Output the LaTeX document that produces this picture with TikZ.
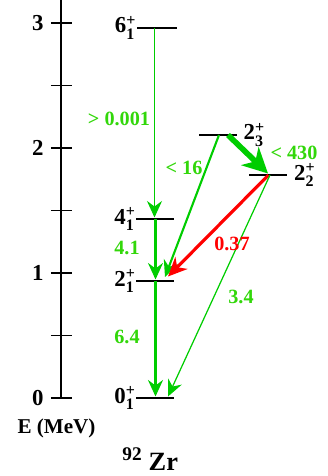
\documentclass[tikz,border=0pt]{standalone}
\usepackage{amsmath}
\usepackage{fontspec}
\setmainfont{Liberation Serif}[BoldFont={Liberation Serif Bold}]
\usetikzlibrary{arrows.meta}
\definecolor{trgreen}{RGB}{0,205,0}
\definecolor{lbgreen}{RGB}{50,215,10}
\definecolor{trred}{RGB}{255,0,0}
\newcommand{\lvl}[2]{#1$^{\text{+}}_{\text{#2}}$}

\begin{document}
\begin{tikzpicture}[x=0.2mm, y=2.5cm,
  lev/.style={fill=black, inner sep=0pt, minimum height=1.3pt, minimum width=7.6mm},
  tick/.style={line width=0.7pt},
  tr/.style={draw=trgreen, -{Stealth[length=3.3mm,width=3mm,inset=1.1mm]}},
  trlab/.style={text=lbgreen, font=\bfseries\fontsize{11.5}{13}\selectfont, inner sep=0pt},
  levlab/.style={font=\bfseries\fontsize{13}{15}\selectfont, inner sep=0pt}]
  \useasboundingbox (0,-0.624) rectangle (328,3.184);

  % energy axis
  \coordinate (atop) at (61,3.184);
  \coordinate (abot) at (61,0);
  \draw[line width=0.8pt] (atop) -- (abot);
  \foreach \e in {0,0.5,...,3} \draw[tick] (51,\e) -- (72,\e);
  \foreach \e in {0,1,2,3} \node[levlab, anchor=east] (t\e) at (44,\e) {\e};
  \node[font=\bfseries\fontsize{12}{14}\selectfont, anchor=base, inner sep=0pt] (eaxis) at (56.5,-0.28) {E (MeV)};

  % levels
  \node[lev] (g0) at (155.5,0) {};
  \node[lev] (g2a) at (155.5,0.936) {};
  \node[lev] (g4) at (155.5,1.432) {};
  \node[lev, minimum width=8mm] (g6) at (157,2.962) {};
  \node[lev] (g2c) at (218,2.104) {};
  \node[lev] (g2b) at (268.5,1.784) {};

  \node[levlab, anchor=base east] (l0) at ([yshift=-1mm]g0.west) {\lvl{0}{1}};
  \node[levlab, anchor=base east] (l2a) at ([yshift=-1mm]g2a.west) {\lvl{2}{1}};
  \node[levlab, anchor=base east] (l4) at ([yshift=-1mm]g4.west) {\lvl{4}{1}};
  \node[levlab, anchor=base east] (l6) at ([yshift=-1mm]g6.west) {\lvl{6}{1}};
  \node[levlab, anchor=base west] (l2c) at ([xshift=1.2mm,yshift=-1mm]g2c.east) {\lvl{2}{3}};
  \node[levlab, anchor=base west] (l2b) at ([xshift=1.2mm,yshift=-1mm]g2b.east) {\lvl{2}{2}};

  % transitions
  \draw[tr, line width=1pt] ([xshift=-0.2mm]g4.center |- g6.center) -- ([xshift=-0.2mm]g4.north);
  \draw[tr, line width=1.2pt] (g4.center) -- (g2a.north);
  \draw[tr, line width=1.5pt] (g2a.center) -- (g0.north);
  \draw[tr, line width=1.2pt] ([xshift=0.2mm]g2c.center) -- ([xshift=1.9mm,yshift=0.5mm]g2a.north);
  \draw[tr, line width=3.2pt, -{Stealth[length=5mm,width=5mm,inset=1.5mm]}] ([xshift=2mm]g2c.center) -- ([xshift=-0.1mm]g2b.north);
  \draw[draw=trred, line width=1.8pt, -{Stealth[length=3.8mm,width=3.4mm,inset=1.2mm]}] (g2b.center) -- ([xshift=2.5mm,yshift=0.6mm]g2a.north);
  \draw[tr, line width=0.7pt] ([xshift=0.3mm]g2b.center) -- ([xshift=2.5mm]g0.north);

  \node[trlab] (b64) at (119,2.232) {> 0.001};
  \node[trlab] (b42) at (127,1.2) {4.1};
  \node[trlab] (b20) at (127,0.488) {6.4};
  \node[trlab] (b31) at (184,1.84) {< 16};
  \node[trlab] (b32) at (294,1.96) {< 430};
  \node[trlab, text=trred] (b21) at (232,1.232) {0.37};
  \node[trlab] (b20b) at (241,0.808) {3.4};

  \node[anchor=base west, inner sep=0pt, font=\bfseries] (nuc) at (122,-0.496) {\fontsize{11}{13}\selectfont 92\hspace{1.4mm}\raisebox{-2mm}{\fontsize{15}{18}\selectfont Zr}};
\end{tikzpicture}
\end{document}
